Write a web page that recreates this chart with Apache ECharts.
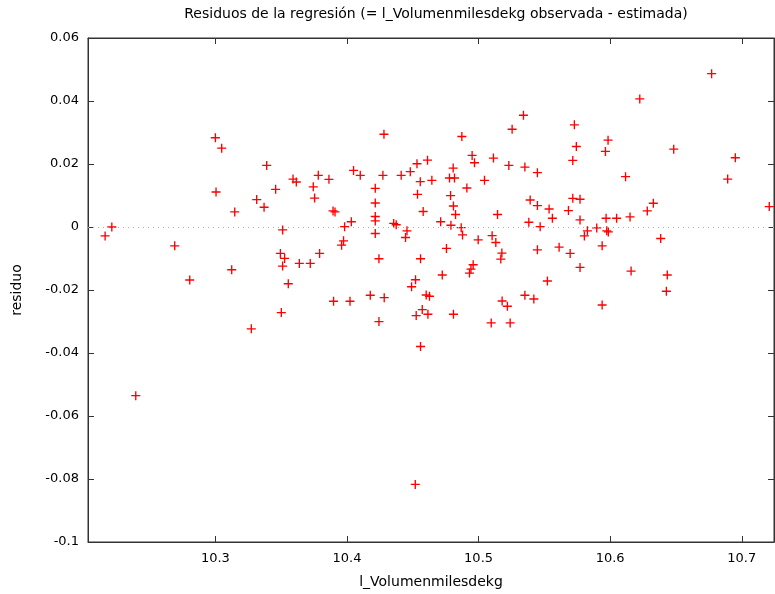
<!DOCTYPE html>
<html>
<head>
<meta charset="utf-8">
<script src="https://cdn.jsdelivr.net/npm/echarts@6/dist/echarts.min.js"></script>
<style>html,body{margin:0;padding:0;background:#fff}#c{width:775px;height:594px}</style>
</head>
<body>
<div id="c"></div>
<script>
const titleText = 'Residuos de la regresión (= l_Volumenmilesdekg observada - estimada)';
const xName = 'l_Volumenmilesdekg';
const yName = 'residuo';

const xValues = [
10.2162,10.2213,10.2395,10.2691,10.2805,10.3000,10.3005,10.3048,10.3124,10.3147,
10.3273,10.3314,10.3370,10.3390,10.3458,10.3494,10.3501,10.3511,10.3511,10.3526,
10.3554,10.3590,10.3615,10.3638,10.3721,10.3744,10.3754,10.3782,10.3792,10.3863,
10.3894,10.3909,10.3898,10.3959,10.3974,10.3982,10.4023,10.4033,10.4050,10.4101,
10.4177,10.4215,10.4215,10.4215,10.4215,10.4215,10.4243,10.4243,10.4273,10.4281,
10.4283,10.4355,10.4374,10.4412,10.4445,10.4456,10.4481,10.4491,10.4521,10.4519,
10.4526,10.4532,10.4536,10.4557,10.4559,10.4559,10.4572,10.4579,10.4602,10.4612,
10.4615,10.4627,10.4645,10.4712,10.4724,10.4756,10.4779,10.4787,10.4790,10.4807,
10.4809,10.4809,10.4817,10.4825,10.4868,10.4873,10.4878,10.4911,10.4931,10.4942,
10.4951,10.4959,10.4969,10.4997,10.5045,10.5096,10.5103,10.5113,10.5131,10.5144,
10.5169,10.5177,10.5179,10.5219,10.5230,10.5240,10.5255,10.5341,10.5352,10.5352,
10.5382,10.5392,10.5420,10.5447,10.5447,10.5447,10.5468,10.5523,10.5536,10.5561,
10.5612,10.5683,10.5696,10.5716,10.5716,10.5728,10.5743,10.5771,10.5771,10.5771,
10.5804,10.5827,10.5898,10.5939,10.5939,10.5964,10.5969,10.5974,10.5986,10.5984,
10.6049,10.6117,10.6159,10.6151,10.6225,10.6282,10.6328,10.6384,10.6427,10.6434,
10.6483,10.6771,10.6893,10.6951,10.7209
];
const residuals = [
-0.00282,0.00000,-0.05354,-0.00598,-0.01684,0.02832,0.01111,0.02503,-0.01358,0.00478,
-0.03234,0.00870,0.00627,0.01956,0.01196,-0.00839,-0.02718,-0.00092,-0.01240,-0.00997,
-0.01801,0.01522,0.01427,-0.01155,-0.01155,0.01275,0.00918,0.01639,-0.00839,0.01513,
0.00510,0.00478,-0.02358,-0.00576,-0.00440,0.00010,-0.02358,0.00168,0.01797,0.01639,
-0.02168,0.01228,0.00763,0.00332,0.00193,-0.00206,-0.01009,-0.03003,0.01639,0.02946,
-0.02244,0.00114,0.00073,0.01639,-0.00332,-0.00123,0.01756,-0.01896,-0.01674,-0.08171,
-0.02813,0.02009,0.01038,0.01440,-0.01009,-0.03794,-0.02623,0.00491,-0.02158,0.02123,
-0.02769,-0.02199,0.01481,0.00168,-0.01525,-0.00680,0.01554,0.00997,0.00057,0.01870,
0.00668,-0.02769,0.01554,0.00396,-0.00022,0.02873,-0.00250,0.01237,-0.01462,-0.01335,
0.02272,-0.01199,0.02041,-0.00408,0.01481,-0.03044,-0.00275,0.02187,-0.00491,0.00396,
-0.01019,-0.00829,-0.02348,-0.02516,0.01956,-0.03044,0.03104,0.03547,0.01902,-0.02168,
0.00152,0.00858,-0.02285,0.01725,0.00680,-0.00725,0.00010,-0.01715,0.00573,0.00278,
-0.00639,0.00522,-0.00839,0.02114,0.00911,0.03244,0.02557,0.00880,0.00225,-0.01282,
-0.00282,-0.00123,-0.00028,-0.00598,-0.02475,0.02399,0.00278,-0.00123,-0.00155,0.02756,
0.00278,0.01598,-0.01399,0.00320,0.04066,0.00510,0.00753,-0.00364,-0.02041,-0.01525,
0.02472,0.04867,0.01522,0.02199,0.00649
];

const xMin = 10.2032, xMax = 10.7245;
const yMin = -0.1, yMax = 0.06, yStep = 0.02;

const points = xValues.map((x, i) => [x, residuals[i]]);

const FONT = 'DejaVu Sans';
const plus = 'path://M-0.15,-1H0.15V-0.15H1V0.15H0.15V1H-0.15V0.15H-1V-0.15H-0.15Z';

const chart = echarts.init(document.getElementById('c'), null, {renderer: 'canvas'});
const axisLine = {show: true, onZero: false, lineStyle: {color: '#333', width: 1}};
const tick = {show: true, inside: true, length: 6, lineStyle: {color: '#333'}};
chart.setOption({
  animation: false,
  backgroundColor: '#fff',
  grid: {left: 88, right: 1, top: 38, bottom: 46, show: true, borderColor: '#333', borderWidth: 1, containLabel: false},
  graphic: [{
    type: 'text', x: 436, y: 7,
    style: {text: titleText, font: '14px "DejaVu Sans"', fill: '#000', textAlign: 'center', textVerticalAlign: 'top'}
  }],
  xAxis: [{
    type: 'value', min: xMin, max: xMax, position: 'bottom',
    name: xName, nameLocation: 'middle', nameGap: 33,
    nameTextStyle: {fontFamily: FONT, fontSize: 14, color: '#000'},
    axisLine: axisLine, axisTick: tick,
    axisLabel: {fontFamily: FONT, fontSize: 13, color: '#000', margin: 10, showMinLabel: false, showMaxLabel: false},
    splitLine: {show: false}
  }, {
    type: 'value', min: xMin, max: xMax, position: 'top',
    axisLine: axisLine, axisTick: tick, axisLabel: {show: false}, splitLine: {show: false}
  }],
  yAxis: [{
    type: 'value', min: yMin, max: yMax, interval: yStep, position: 'left',
    name: yName, nameLocation: 'middle', nameGap: 64,
    nameTextStyle: {fontFamily: FONT, fontSize: 14, color: '#000'},
    axisLine: axisLine, axisTick: tick,
    axisLabel: {fontFamily: FONT, fontSize: 13, color: '#000', margin: 9},
    splitLine: {show: false}
  }, {
    type: 'value', min: yMin, max: yMax, interval: yStep, position: 'right',
    axisLine: axisLine, axisTick: tick, axisLabel: {show: false}, splitLine: {show: false}
  }],
  series: [{
    type: 'scatter',
    data: points,
    symbol: plus,
    symbolSize: 9,
    itemStyle: {color: '#ff0000', opacity: 1},
    markLine: {
      silent: true, symbol: 'none', label: {show: false},
      lineStyle: {color: '#aaaaaa', type: [1, 4], width: 1},
      data: [{yAxis: 0}]
    }
  }]
});
</script>
</body>
</html>
